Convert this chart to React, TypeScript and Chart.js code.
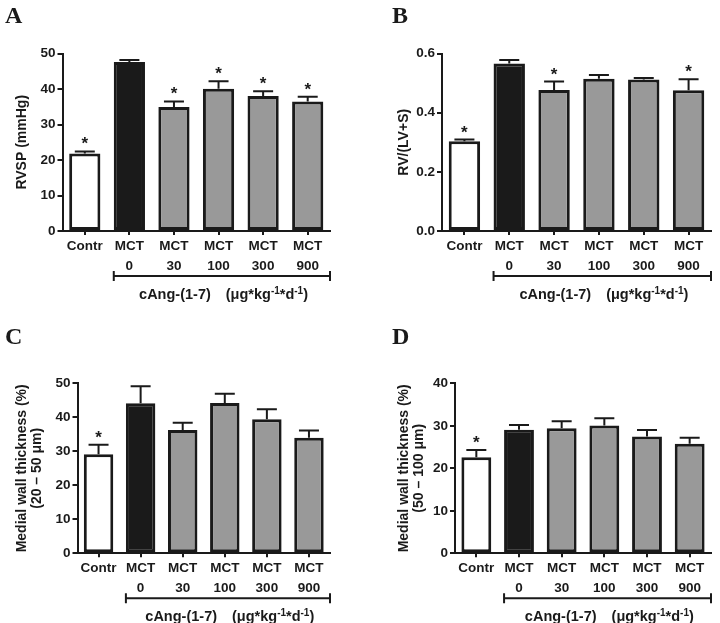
import { useEffect, useRef } from "react";
import { Chart, registerables } from "chart.js";

Chart.register(...registerables);

const INK = "#1a1a1a";
const SANS = '"Liberation Sans", Arial, sans-serif';

// x categories (shared by all four panels)
const groups = [["Contr"], ["MCT", "0"], ["MCT", "30"], ["MCT", "100"], ["MCT", "300"], ["MCT", "900"]];
const barColors = ["#ffffff", "#1a1a1a", "#999999", "#999999", "#999999", "#999999"];

// A: RVSP (mmHg)
const rvspMeans = [21.8, 47.6, 34.9, 40.1, 38.0, 36.5];
const rvspErrors = [0.6, 0.6, 1.6, 2.1, 1.4, 1.3];
const rvspStars = [true, false, true, true, true, true];

// B: RV/(LV+S)
const ratioMeans = [0.303, 0.566, 0.477, 0.515, 0.512, 0.476];
const ratioErrors = [0.006, 0.012, 0.028, 0.012, 0.005, 0.037];
const ratioStars = [true, false, true, false, false, true];

// C: medial wall thickness, 20-50 um vessels
const wallSmallMeans = [29.1, 44.1, 36.3, 44.2, 39.4, 34.0];
const wallSmallErrors = [2.8, 5.0, 2.1, 2.7, 3.0, 2.1];
const wallSmallStars = [true, false, false, false, false, false];

// D: medial wall thickness, 50-100 um vessels
const wallLargeMeans = [22.6, 29.1, 29.4, 30.1, 27.5, 25.8];
const wallLargeErrors = [1.7, 1.1, 1.7, 1.7, 1.5, 1.4];
const wallLargeStars = [true, false, false, false, false, false];

interface PanelProps {
  letter: string;
  means: number[];
  errors: number[];
  stars: boolean[];
  yMax: number;
  yStep: number;
  decimals: number;
  title: string | string[];
  titlePad: number;
  width: number;
  height: number;
  left: number;
  top: number;
  right: number;
  bottom: number;
  letterX: number;
  letterY: number;
}

function Panel(p: PanelProps) {
  const canvasRef = useRef<HTMLCanvasElement>(null);

  useEffect(() => {
    if (!canvasRef.current) return;

    const overlay = {
      id: "overlay",
      afterDatasetsDraw(chart: any) {
        const ctx = chart.ctx;
        const y = chart.scales.y;
        const meta = chart.getDatasetMeta(0);
        ctx.save();
        ctx.strokeStyle = INK;
        ctx.fillStyle = INK;
        ctx.lineWidth = 2;
        meta.data.forEach((bar: any, i: number) => {
          const capY = y.getPixelForValue(p.means[i] + p.errors[i]);
          ctx.beginPath();
          ctx.moveTo(bar.x, bar.y);
          ctx.lineTo(bar.x, capY);
          ctx.moveTo(bar.x - 10, capY);
          ctx.lineTo(bar.x + 10, capY);
          ctx.stroke();
          if (p.stars[i]) {
            ctx.font = `bold 17px ${SANS}`;
            ctx.textAlign = "center";
            ctx.textBaseline = "alphabetic";
            ctx.fillText("*", bar.x, capY - 2);
          }
        });
        ctx.restore();
      },
      afterDraw(chart: any) {
        const ctx = chart.ctx;
        const x = chart.scales.x;
        const area = chart.chartArea;
        const bar1 = chart.getDatasetMeta(0).data[1];
        const x0 = bar1.x - bar1.width / 2;
        const x1 = area.right;
        const by = area.bottom + 45;
        ctx.save();
        ctx.strokeStyle = INK;
        ctx.fillStyle = INK;
        ctx.lineWidth = 2;
        ctx.beginPath();
        ctx.moveTo(x0, by);
        ctx.lineTo(x1, by);
        ctx.moveTo(x0, by - 5);
        ctx.lineTo(x0, by + 5);
        ctx.moveTo(x1, by - 5);
        ctx.lineTo(x1, by + 5);
        ctx.stroke();

        // "cAng-(1-7)   (µg*kg-1*d-1)" with superscripts
        const parts: [string, boolean][] = [
          ["cAng-(1-7)", false],
          ["", false],
          ["(\u03bcg*kg", false],
          ["-1", true],
          ["*d", false],
          ["-1", true],
          [")", false],
        ];
        const big = `bold 14.5px ${SANS}`;
        const small = `bold 10px ${SANS}`;
        const widths = parts.map(([t, sup], i) => {
          if (i === 1) return 15;
          ctx.font = sup ? small : big;
          return ctx.measureText(t).width;
        });
        const total = widths.reduce((a, b) => a + b, 0);
        const cx = (x.getPixelForValue(1) + x.getPixelForValue(5)) / 2 + 5;
        let tx = cx - total / 2;
        const ty = area.bottom + 68;
        ctx.textAlign = "left";
        ctx.textBaseline = "alphabetic";
        parts.forEach(([t, sup], i) => {
          ctx.font = sup ? small : big;
          ctx.fillText(t, tx, sup ? ty - 5.5 : ty);
          tx += widths[i];
        });

        ctx.font = `bold 24px "Liberation Serif", "Times New Roman", serif`;
        ctx.fillText(p.letter, p.letterX, p.letterY);
        ctx.restore();
      },
    };

    const chart = new Chart(canvasRef.current, {
      type: "bar",
      data: {
        labels: groups,
        datasets: [
          {
            data: p.means,
            backgroundColor: barColors,
            borderColor: INK,
            borderWidth: 3,
            borderSkipped: false,
            barPercentage: 0.7,
            categoryPercentage: 1,
          },
        ],
      },
      options: {
        responsive: false,
        animation: false,
        layout: {
          padding: { left: 0, top: p.top, right: p.width - p.right, bottom: 0 },
        },
        plugins: {
          legend: { display: false },
          tooltip: { enabled: false },
        },
        scales: {
          x: {
            grid: {
              display: true,
              drawOnChartArea: false,
              drawTicks: true,
              tickLength: 4,
              offset: false,
              color: INK,
              lineWidth: 2,
            },
            border: { display: true, color: INK, width: 2 },
            ticks: {
              color: INK,
              font: { family: SANS, size: 13.5, weight: "bold", lineHeight: 20 / 13.5 },
              padding: 1,
              autoSkip: false,
              maxRotation: 0,
            },
            afterFit: (s: any) => {
              s.height = p.height - p.bottom;
            },
          },
          y: {
            min: 0,
            max: p.yMax,
            grid: {
              drawOnChartArea: false,
              drawTicks: true,
              tickLength: 5,
              color: INK,
              lineWidth: 2,
            },
            border: { display: true, color: INK, width: 2 },
            ticks: {
              stepSize: p.yStep,
              color: INK,
              padding: 2,
              font: { family: SANS, size: 13.5, weight: "bold" },
              callback: (v: any) => Number(v).toFixed(p.decimals),
            },
            title: {
              display: true,
              text: p.title,
              color: INK,
              font: { family: SANS, size: 14, weight: "bold", lineHeight: 15 / 14 },
              padding: { top: p.titlePad, bottom: 0 },
            },
            afterFit: (s: any) => {
              s.width = p.left;
            },
          },
        },
      },
      plugins: [overlay],
    });

    return () => {
      chart.destroy();
    };
  }, [p]);

  return <canvas ref={canvasRef} width={p.width} height={p.height}></canvas>;
}

const panelA: PanelProps = {
  letter: "A", means: rvspMeans, errors: rvspErrors, stars: rvspStars,
  yMax: 50, yStep: 10, decimals: 0, title: "RVSP (mmHg)", titlePad: 15,
  width: 360, height: 310, left: 62.5, top: 53.5, right: 330, bottom: 231,
  letterX: 5, letterY: 23,
};
const panelB: PanelProps = {
  letter: "B", means: ratioMeans, errors: ratioErrors, stars: ratioStars,
  yMax: 0.6, yStep: 0.2, decimals: 1, title: "RV/(LV+S)", titlePad: 37,
  width: 360, height: 310, left: 82, top: 53.5, right: 351, bottom: 231,
  letterX: 32, letterY: 23,
};
const panelC: PanelProps = {
  letter: "C", means: wallSmallMeans, errors: wallSmallErrors, stars: wallSmallStars,
  yMax: 50, yStep: 10, decimals: 0, title: ["Medial wall thickness (%)", "(20 \u2013 50 \u03bcm)"], titlePad: 14.5,
  width: 360, height: 313, left: 77.5, top: 73.3, right: 330, bottom: 243.3,
  letterX: 5, letterY: 34,
};
const panelD: PanelProps = {
  letter: "D", means: wallLargeMeans, errors: wallLargeErrors, stars: wallLargeStars,
  yMax: 40, yStep: 10, decimals: 0, title: ["Medial wall thickness (%)", "(50 \u2013 100 \u03bcm)"], titlePad: 36.5,
  width: 360, height: 313, left: 95, top: 73.3, right: 351, bottom: 243.3,
  letterX: 32, letterY: 34,
};

export default function App() {
  const cell = (x: number, y: number): React.CSSProperties => ({ position: "absolute", left: x, top: y });
  return (
    <div style={{ position: "fixed", left: 0, top: 0, width: 720, height: 623, background: "#ffffff" }}>
      <div style={cell(0, 0)}><Panel {...panelA} /></div>
      <div style={cell(360, 0)}><Panel {...panelB} /></div>
      <div style={cell(0, 310)}><Panel {...panelC} /></div>
      <div style={cell(360, 310)}><Panel {...panelD} /></div>
    </div>
  );
}
